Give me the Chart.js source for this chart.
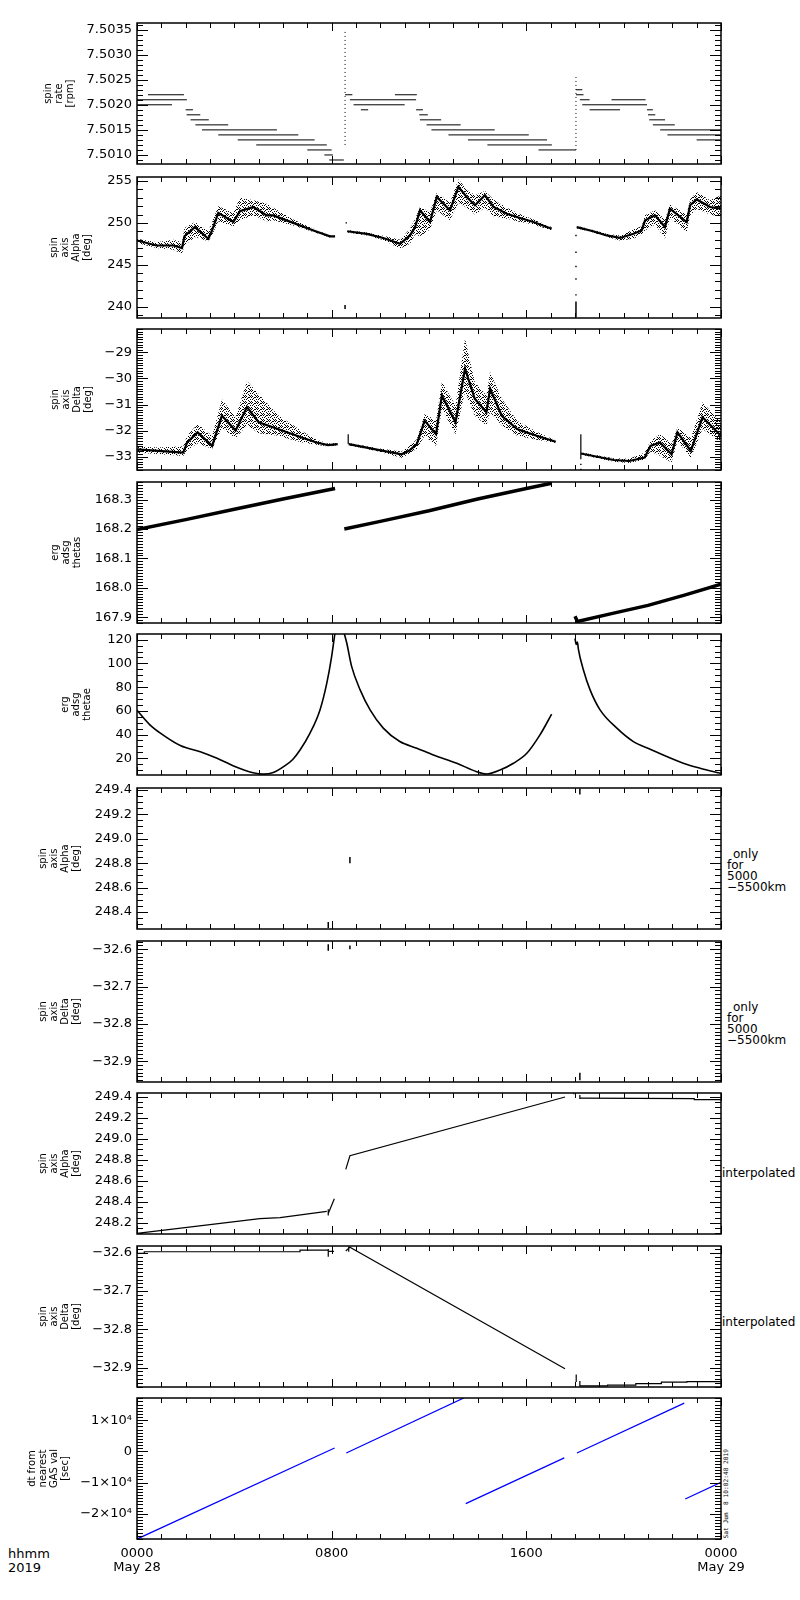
<!DOCTYPE html>
<html>
<head>
<title>ERG spin axis 2019-05-28</title>
<script src="https://cdn.jsdelivr.net/npm/chart.js@4.4.1/dist/chart.umd.min.js"></script>
<style>
body { margin: 0; background: #fff; }
#page { position: relative; width: 800px; height: 1600px; font-family: "DejaVu Sans", sans-serif; color: #000; }
.panel { position: absolute; left: 0; width: 800px; }
.note { position: absolute; font-size: 12px; line-height: 11px; white-space: pre; }
#stamp { position: absolute; left: 722px; top: 1449px; font-family: "DejaVu Sans Mono", monospace; font-size: 6.2px;
  line-height: 7px; white-space: pre; writing-mode: vertical-rl; transform: rotate(180deg); }
</style>
</head>
<body>
<div id="page">
  <div class="note" style="left:8px;top:1547px;font-size:13px;line-height:13.6px">hhmm<br>2019</div>
  <div class="note" style="left:727px;top:849px"><span style="margin-left:6px">only</span><br>for<br>5000<br>−5500km</div>
  <div class="note" style="left:727px;top:1002px"><span style="margin-left:6px">only</span><br>for<br>5000<br>−5500km</div>
  <div class="note" style="left:722px;top:1167px;line-height:12px">interpolated</div>
  <div class="note" style="left:722px;top:1316px;line-height:12px">interpolated</div>
  <div id="stamp">Sat Jun  8 10:02:48 2019</div>
</div>

<script>
// time axis, hours after 0000 May 28
var hourTicks = [0, 8, 16, 24];
var hourLabels = [['0000', 'May 28'], '0800', '1600', ['0000', 'May 29']];

// 1: spin rate [rpm], quantised levels [from h, to h, rpm]
var rateLevels = [
  [0.45, 1.93, 7.5022], [0, 2.05, 7.5021], [0, 1.44, 7.5020], [2.0, 2.3, 7.5019],
  [2.04, 2.6, 7.5018], [2.2, 2.95, 7.5017], [2.4, 3.75, 7.5016], [2.67, 5.75, 7.5015],
  [3.34, 6.63, 7.5014], [4.14, 7.3, 7.5013], [4.9, 7.8, 7.5012], [7.0, 8.0, 7.5011],
  [7.7, 8.05, 7.5010], [7.9, 8.5, 7.5009],
  [8.55, 8.85, 7.5022], [8.75, 11.47, 7.5021], [8.9, 11.0, 7.5020], [9.2, 9.5, 7.5019],
  [10.6, 11.5, 7.5022], [11.47, 11.75, 7.5019], [11.6, 11.95, 7.5018], [11.63, 12.5, 7.5017],
  [11.9, 13.3, 7.5016], [12.1, 14.7, 7.5015], [12.8, 16.1, 7.5014], [13.6, 16.85, 7.5013],
  [14.4, 17.05, 7.5012], [16.5, 18.04, 7.5011],
  [18.04, 18.3, 7.5023], [18.04, 18.35, 7.5022], [18.2, 18.6, 7.5021], [19.5, 20.9, 7.5021],
  [18.3, 20.96, 7.5020], [18.6, 19.85, 7.5019], [20.96, 21.2, 7.5019], [21.0, 21.3, 7.5018],
  [21.05, 21.7, 7.5017], [21.2, 22.1, 7.5016], [21.5, 24, 7.5015], [21.8, 24, 7.5014],
  [23.0, 24, 7.5013]
];
var rateJumps = [[8.55, 7.5012, 7.5035], [18.04, 7.5011, 7.5026]];
var rateTicks = [7.5010, 7.5015, 7.5020, 7.5025, 7.5030, 7.5035];
var rateLabels = ['7.5010', '7.5015', '7.5020', '7.5025', '7.5030', '7.5035'];

// 2: spin axis alpha [deg], rows [h, low, mid, high]
var alphaSeg1 = [
  [0, 247.6, 247.9, 248.1], [0.8, 247.0, 247.3, 247.7], [1.5, 246.8, 247.3, 248.0],
  [1.85, 246.3, 247.0, 247.7], [1.95, 247.3, 248.4, 249.4], [2.38, 248.3, 249.5, 250.1],
  [2.93, 247.8, 248.1, 249.0], [3.07, 248.4, 249.0, 250.0], [3.34, 250.2, 251.2, 252.0],
  [3.96, 249.6, 250.1, 251.2], [4.23, 250.3, 251.4, 253.0], [4.78, 250.9, 251.9, 252.7],
  [5.33, 250.2, 250.9, 252.3], [5.6, 250.3, 250.9, 251.8], [6.42, 249.7, 250.0, 250.4],
  [7.25, 248.9, 249.1, 249.3], [7.93, 248.25, 248.4, 248.5], [8.14, 248.3, 248.4, 248.5]
];
var alphaSeg2 = [
  [8.64, 248.85, 249.0, 249.15], [9.44, 248.5, 248.68, 248.85], [10.12, 247.95, 248.2, 248.45],
  [10.81, 246.9, 247.5, 248.0], [11.22, 247.5, 248.5, 249.3], [11.43, 248.6, 249.5, 250.5],
  [11.63, 248.4, 251.5, 251.9], [12.04, 249.2, 250.1, 251.3], [12.32, 251.5, 253.1, 253.6],
  [12.86, 250.3, 251.5, 252.4], [13.21, 252.4, 254.3, 255.2], [13.55, 251.8, 253.1, 254.0],
  [13.89, 251.0, 252.1, 253.3], [14.3, 251.8, 253.3, 253.8], [14.65, 250.8, 251.9, 252.8],
  [15.2, 250.5, 251.1, 251.8], [15.61, 250.2, 250.7, 251.2], [16.29, 249.8, 250.1, 250.4],
  [17.04, 249.1, 249.3, 249.5]
];
var alphaSeg3 = [
  [18.07, 249.35, 249.5, 249.65], [18.75, 248.85, 249.0, 249.15], [19.3, 248.3, 248.5, 248.7],
  [19.85, 247.9, 248.2, 248.5], [20.4, 248.1, 248.7, 249.2], [20.74, 248.6, 249.1, 249.6],
  [20.88, 249.1, 250.3, 250.9], [21.29, 249.8, 250.9, 251.5], [21.7, 248.1, 249.5, 250.4],
  [21.9, 250.6, 251.7, 252.2], [22.59, 248.9, 250.1, 251.0], [22.73, 250.9, 252.1, 252.8],
  [23.0, 251.7, 252.8, 253.7], [23.55, 251.0, 251.9, 252.7], [24, 250.7, 251.7, 253.3]
];
var alphaJumps = [[8.55, 239.7, 240.2], [18.04, 238.7, 240.6]];
var alphaDots = [[8.6, 250.0], [18.04, 248.5], [18.04, 246.5], [18.04, 244.8], [18.04, 243.3], [18.04, 241.4]];
var alphaTicks = [240, 245, 250, 255];
var alphaLabels = ['240', '245', '250', '255'];

// 3: spin axis delta [deg], rows [h, low, mid, high]
var deltaSeg1 = [
  [0, -32.85, -32.72, -32.61], [0.87, -32.9, -32.78, -32.65], [1.9, -32.98, -32.85, -32.6],
  [2.06, -32.75, -32.46, -32.2], [2.49, -32.5, -32.07, -31.75], [3.09, -32.7, -32.59, -32.2],
  [3.49, -31.9, -31.43, -30.8], [4.05, -32.3, -32.0, -31.5], [4.52, -31.8, -31.1, -30.1],
  [5.0, -32.1, -31.68, -30.6], [5.79, -32.2, -31.94, -31.4], [6.74, -32.45, -32.26, -32.0],
  [7.38, -32.55, -32.46, -32.35], [7.85, -32.61, -32.56, -32.5], [8.25, -32.56, -32.52, -32.48]
];
var deltaSeg2 = [
  [8.7, -32.56, -32.52, -32.48], [9.91, -32.8, -32.74, -32.68], [10.87, -33.04, -32.91, -32.8],
  [11.18, -32.9, -32.78, -32.6], [11.5, -32.7, -32.52, -32.33], [11.82, -32.2, -31.62, -31.36],
  [12.29, -32.59, -32.14, -31.6], [12.53, -31.17, -30.65, -30.14], [13.09, -32.14, -31.68, -31.04],
  [13.48, -30.52, -29.62, -28.46], [13.88, -31.43, -30.78, -30.14], [14.36, -31.81, -31.3, -30.65],
  [14.51, -31.3, -30.39, -29.75], [14.99, -31.81, -31.43, -30.78], [15.62, -32.2, -31.94, -31.62],
  [16.42, -32.35, -32.2, -32.05], [17.21, -32.48, -32.43, -32.38]
];
var deltaSeg3 = [
  [18.24, -32.93, -32.88, -32.83], [19.59, -33.2, -33.13, -33.06], [20.23, -33.25, -33.17, -33.08],
  [20.86, -33.12, -33.04, -32.85], [21.1, -32.8, -32.59, -32.4], [21.49, -32.97, -32.46, -32.14],
  [21.97, -33.23, -32.91, -32.5], [22.21, -32.4, -32.07, -31.88], [22.76, -33.04, -32.78, -32.3],
  [23.24, -31.94, -31.49, -30.91], [24, -32.46, -32.2, -31.68]
];
var deltaJumps = [[8.68, -32.52, -32.14], [18.24, -33.1, -32.14]];
var deltaDots = [[18.24, -33.3], [18.24, -33.49]];
var deltaTicks = [-33, -32, -31, -30, -29];
var deltaLabels = ['−33', '−32', '−31', '−30', '−29'];

// 4: erg adsg thetas
var thetasSeg1 = [[0, 168.198], [2, 168.232], [4, 168.267], [6, 168.302], [8.14, 168.338]];
var thetasSeg2 = [[8.52, 168.2], [10, 168.226], [12, 168.262], [14, 168.302], [16, 168.338], [17.04, 168.356]];
var thetasSeg3 = [[18.0, 167.903], [18.1, 167.885], [19.5, 167.912], [21, 167.94], [22.5, 167.975], [24, 168.012]];
var thetasTicks = [167.9, 168.0, 168.1, 168.2, 168.3];
var thetasLabels = ['167.9', '168.0', '168.1', '168.2', '168.3'];

// 5: erg adsg thetae
var thetaeSeg1 = [
  [0, 60.5], [0.53, 48.2], [0.96, 41.2], [1.8, 30.5], [2.6, 25.6], [3.29, 20.0], [3.97, 13.5],
  [4.77, 7.8], [5.2, 6.6], [5.6, 8], [6.1, 14], [6.4, 19], [6.7, 27], [7.11, 41.2], [7.52, 60.8],
  [7.8, 83.4], [8.0, 106], [8.13, 125]
];
var thetaeSeg2 = [
  [8.52, 125], [8.62, 117.2], [8.82, 97.5], [9.17, 77.7], [9.58, 60.8], [10.12, 45.4], [10.8, 34.1],
  [11.5, 28.5], [12.18, 22.8], [13.14, 15.8], [13.96, 8.7], [14.37, 6.8], [14.92, 10.1], [15.47, 15.8],
  [16.02, 24.2], [16.56, 39.7], [17.04, 57.2]
];
var thetaeSeg3 = [
  [18.0, 121], [18.05, 116], [18.1, 118], [18.14, 111.8], [18.34, 94.9], [18.62, 77.7], [19.03, 60.8],
  [19.72, 45.4], [20.4, 34.1], [21.09, 27.7], [21.77, 21.5], [22.45, 15.8], [23.14, 11.6], [24, 7.3]
];
var thetaeTicks = [20, 40, 60, 80, 100, 120];
var thetaeLabels = ['20', '40', '60', '80', '100', '120'];

// 6, 7: only for 5000-5500 km, short marks [h, from, to]
var alphaShortMarks = [[7.86, 248.27, 248.32], [8.75, 248.80, 248.85], [18.2, 249.36, 249.41]];
var alphaShortTicks = [248.4, 248.6, 248.8, 249.0, 249.2, 249.4];
var alphaShortLabels = ['248.4', '248.6', '248.8', '249.0', '249.2', '249.4'];
var deltaShortMarks = [[7.86, -32.604, -32.587], [8.75, -32.6, -32.59], [18.2, -32.95, -32.93]];
var deltaShortTicks = [-32.9, -32.8, -32.7, -32.6];
var deltaShortLabels = ['−32.9', '−32.8', '−32.7', '−32.6'];

// 8: interpolated alpha
var alphaIntSeg1 = [[0, 248.10], [5.05, 248.24], [5.88, 248.25], [7.8, 248.31]];
var alphaIntSeg2 = [[7.86, 248.29], [8.11, 248.43]];
var alphaIntSeg3 = [[8.58, 248.71], [8.75, 248.84], [17.59, 249.40]];
var alphaIntSeg4 = [[18.2, 249.39], [22.9, 249.385], [22.9, 249.375], [24, 249.375]];
var alphaIntMarks = [[7.86, 248.27, 248.33], [17.95, 249.425, 249.435], [18.2, 249.38, 249.42]];
var alphaIntTicks = [248.2, 248.4, 248.6, 248.8, 249.0, 249.2, 249.4];
var alphaIntLabels = ['248.2', '248.4', '248.6', '248.8', '249.0', '249.2', '249.4'];

// 9: interpolated delta
var deltaIntSeg1 = [[0, -32.601], [0.3, -32.601], [0.3, -32.597], [6.7, -32.597], [6.7, -32.593], [7.86, -32.593]];
var deltaIntSeg2 = [[7.86, -32.596], [8.1, -32.596]];
var deltaIntSeg3 = [[8.58, -32.595], [8.75, -32.585], [17.59, -32.903]];
var deltaIntSeg4 = [
  [18.2, -32.948], [19.34, -32.948], [19.34, -32.946], [20.5, -32.946], [20.5, -32.942],
  [21.55, -32.942], [21.55, -32.938], [22.6, -32.938], [22.6, -32.937], [24, -32.937]
];
var deltaIntMarks = [[7.86, -32.61, -32.59], [8.7, -32.597, -32.583], [18.05, -32.938, -32.918], [18.2, -32.95, -32.935]];

// 10: dt from nearest GAS value [sec]
var dtLines = [
  [[0, -28100], [8.12, 1090]], [[8.6, -513], [13.43, 17115]], [[13.51, -16760], [17.56, -2100]],
  [[18.08, -513], [22.49, 15500]], [[22.53, -15260], [24, -9900]]
];
var dtTicks = [-20000, -10000, 0, 10000];
var dtLabels = ['−2×10⁴', '−1×10⁴', '0', '1×10⁴'];

var FONT = '"DejaVu Sans", sans-serif';
Chart.defaults.font.family = FONT;
Chart.defaults.color = '#000';

// dotted fill for the scattered point clouds
function speckle() {
  var c = document.createElement('canvas');
  c.width = 6; c.height = 6;
  var g = c.getContext('2d');
  g.fillStyle = '#000';
  [[0, 0], [3, 1], [1, 2], [4, 3], [2, 4], [5, 5], [0, 3], [3, 5], [5, 1], [2, 1], [4, 0]].forEach(function (p) {
    g.fillRect(p[0], p[1], 1, 1);
  });
  return g.createPattern(c, 'repeat');
}
var dots = speckle();

function xy(rows, col) {
  return rows.map(function (r) { return { x: r[0], y: r[col] }; });
}
function line(data, width, color, dash) {
  return { data: data, borderColor: color || '#000', borderWidth: width, borderDash: dash || [],
    pointRadius: 0, fill: false, tension: 0 };
}
function curve(data, width) {
  var d = line(data, width);
  d.cubicInterpolationMode = 'monotone';
  return d;
}
function levels(list) {
  var d = [];
  list.forEach(function (l) { d.push({ x: l[0], y: l[2] }, { x: l[1], y: l[2] }, { x: l[1], y: null }); });
  return d;
}
function verticals(list) {
  var d = [];
  list.forEach(function (l) { d.push({ x: l[0], y: l[1] }, { x: l[0], y: l[2] }, { x: l[0], y: null }); });
  return d;
}
function scatter(list) {
  return { data: xy(list, 1), showLine: false, pointRadius: 1, pointStyle: 'rect',
    backgroundColor: '#000', borderWidth: 0 };
}
function cloud(seg) {
  return [
    { data: xy(seg, 3), borderColor: 'rgba(0,0,0,0)', pointRadius: 0, fill: '+1', backgroundColor: dots, tension: 0 },
    { data: xy(seg, 1), borderColor: 'rgba(0,0,0,0)', pointRadius: 0, fill: false, tension: 0 }
  ];
}

var panels = [
  { top: 23, title: ['spin', 'rate', '[rpm]'], pad: 42.5, min: 7.50082, max: 7.50363,
    ticks: rateTicks, labels: rateLabels, minor: 0.0001,
    sets: [line(levels(rateLevels), 1), line(verticals(rateJumps), 1, '#000', [1, 3])] },
  { top: 177, title: ['spin', 'axis', 'Alpha', '[deg]'], pad: 48.5, min: 238.64, max: 255.48,
    ticks: alphaTicks, labels: alphaLabels, minor: 1,
    sets: [].concat(cloud(alphaSeg1), cloud(alphaSeg2), cloud(alphaSeg3),
      [line(xy(alphaSeg1, 2), 2.2), line(xy(alphaSeg2, 2), 2.2), line(xy(alphaSeg3, 2), 2.2),
       line(verticals(alphaJumps), 1.5), scatter(alphaDots)]) },
  { top: 329, title: ['spin', 'axis', 'Delta', '[deg]'], pad: 49.5, min: -33.515, max: -28.10,
    ticks: deltaTicks, labels: deltaLabels, minor: 0.1,
    sets: [].concat(cloud(deltaSeg1), cloud(deltaSeg2), cloud(deltaSeg3),
      [line(xy(deltaSeg1, 2), 2.2), line(xy(deltaSeg2, 2), 2.2), line(xy(deltaSeg3, 2), 2.2),
       line(verticals(deltaJumps), 1.2), scatter(deltaDots)]) },
  { top: 482, title: ['erg', 'adsg', 'thetas'], pad: 50, min: 167.88, max: 168.36,
    ticks: thetasTicks, labels: thetasLabels, minor: 0.01,
    sets: [line(xy(thetasSeg1, 1), 3.5), line(xy(thetasSeg2, 1), 3.5), line(xy(thetasSeg3, 1), 3.5)] },
  { top: 634, title: ['erg', 'adsg', 'thetae'], pad: 60, min: 5.9, max: 124.8,
    ticks: thetaeTicks, labels: thetaeLabels, minor: 5,
    sets: [curve(xy(thetaeSeg1, 1), 1.6), curve(xy(thetaeSeg2, 1), 1.6), curve(xy(thetaeSeg3, 1), 1.6)] },
  { top: 788, title: ['spin', 'axis', 'Alpha', '[deg]'], pad: 37.5, min: 248.262, max: 249.414,
    ticks: alphaShortTicks, labels: alphaShortLabels, minor: 0.05,
    sets: [line(verticals(alphaShortMarks), 1.5)] },
  { top: 941, title: ['spin', 'axis', 'Delta', '[deg]'], pad: 37.5, min: -32.955, max: -32.578,
    ticks: deltaShortTicks, labels: deltaShortLabels, minor: 0.01,
    sets: [line(verticals(deltaShortMarks), 1.5)] },
  { top: 1093, title: ['spin', 'axis', 'Alpha', '[deg]'], pad: 37.5, min: 248.094, max: 249.438,
    ticks: alphaIntTicks, labels: alphaIntLabels, minor: 0.05,
    sets: [line(xy(alphaIntSeg1, 1), 1.2), line(xy(alphaIntSeg2, 1), 1.2), line(xy(alphaIntSeg3, 1), 1.2),
      line(xy(alphaIntSeg4, 1), 1.2), line(verticals(alphaIntMarks), 1.2)] },
  { top: 1246, title: ['spin', 'axis', 'Delta', '[deg]'], pad: 37.5, min: -32.951, max: -32.582,
    ticks: deltaShortTicks, labels: deltaShortLabels, minor: 0.01,
    sets: [line(xy(deltaIntSeg1, 1), 1.2), line(xy(deltaIntSeg2, 1), 1.2), line(xy(deltaIntSeg3, 1), 1.2),
      line(xy(deltaIntSeg4, 1), 1.2), line(verticals(deltaIntMarks), 1.2)] },
  { top: 1398, title: ['dt from', 'nearest', 'GAS val', '[sec]'], pad: 26.5, min: -28077, max: 17115,
    ticks: dtTicks, labels: dtLabels, minor: 1000,
    sets: dtLines.map(function (l) { return line(xy(l, 1), 1.3, '#0000ff'); }) }
];

// IDL style box with inward ticks on all four sides
function framePlugin(p) {
  return {
    id: 'frame',
    afterDatasetsDraw: function (chart) {
      var a = chart.chartArea, ctx = chart.ctx, xs = chart.scales.x, ys = chart.scales.y;
      ctx.save();
      ctx.strokeStyle = '#000';
      ctx.lineWidth = 1;
      ctx.beginPath();
      for (var h = 0; h <= 24; h++) {
        var px = Math.round(xs.getPixelForValue(h)) + 0.5;
        var len = h % 8 === 0 ? 8 : 5;
        ctx.moveTo(px, a.top); ctx.lineTo(px, a.top + len);
        ctx.moveTo(px, a.bottom); ctx.lineTo(px, a.bottom - len);
      }
      var k0 = Math.ceil(p.min / p.minor - 1e-6), k1 = Math.floor(p.max / p.minor + 1e-6);
      for (var k = k0; k <= k1; k++) {
        var py = Math.round(ys.getPixelForValue(k * p.minor)) + 0.5;
        ctx.moveTo(a.left, py); ctx.lineTo(a.left + 6, py);
        ctx.moveTo(a.right, py); ctx.lineTo(a.right - 6, py);
      }
      p.ticks.forEach(function (v) {
        var py = Math.round(ys.getPixelForValue(v)) + 0.5;
        ctx.moveTo(a.left, py); ctx.lineTo(a.left + 11, py);
        ctx.moveTo(a.right, py); ctx.lineTo(a.right - 11, py);
      });
      ctx.stroke();
      ctx.lineWidth = 1.5;
      ctx.strokeRect(a.left, a.top, a.right - a.left, a.bottom - a.top);
      ctx.restore();
    }
  };
}

var page = document.getElementById('page');
panels.forEach(function (p, i) {
  var last = i === panels.length - 1;
  var box = document.createElement('div');
  box.className = 'panel';
  box.style.top = (p.top - 5) + 'px';
  box.style.height = (5 + 141 + (last ? 45 : 5)) + 'px';
  var cv = document.createElement('canvas');
  box.appendChild(cv);
  page.appendChild(box);

  new Chart(cv, {
    type: 'line',
    data: { datasets: p.sets },
    options: {
      animation: false,
      responsive: true,
      maintainAspectRatio: false,
      events: [],
      spanGaps: false,
      layout: { padding: { top: 5, bottom: last ? 0 : 5, left: 0, right: 79 } },
      plugins: { legend: { display: false }, tooltip: { enabled: false } },
      scales: {
        x: {
          type: 'linear', min: 0, max: 24, display: last,
          grid: { display: false, drawTicks: false }, border: { display: false },
          afterBuildTicks: function (axis) { axis.ticks = hourTicks.map(function (v) { return { value: v }; }); },
          afterFit: function (axis) { axis.height = last ? 45 : 0; axis.paddingLeft = 0; axis.paddingRight = 0; },
          ticks: {
            autoSkip: false, maxRotation: 0, padding: 8, color: '#000',
            font: { family: FONT, size: 13, lineHeight: 1.05 },
            callback: function (v, idx) { return hourLabels[idx]; }
          }
        },
        y: {
          type: 'linear', min: p.min, max: p.max,
          grid: { display: false, drawTicks: false }, border: { display: false },
          afterBuildTicks: function (axis) { axis.ticks = p.ticks.map(function (v) { return { value: v }; }); },
          afterFit: function (axis) { axis.width = 137; axis.paddingTop = 0; axis.paddingBottom = 0; },
          ticks: {
            autoSkip: false, padding: 5, color: '#000',
            font: { family: FONT, size: 13 },
            callback: function (v, idx) { return p.labels[idx]; }
          },
          title: {
            display: true, text: p.title, color: '#000',
            font: { family: FONT, size: 10, lineHeight: 1.1 },
            padding: { top: p.pad, bottom: 0 }
          }
        }
      }
    },
    plugins: [framePlugin(p)]
  });
});
</script>
</body>
</html>
